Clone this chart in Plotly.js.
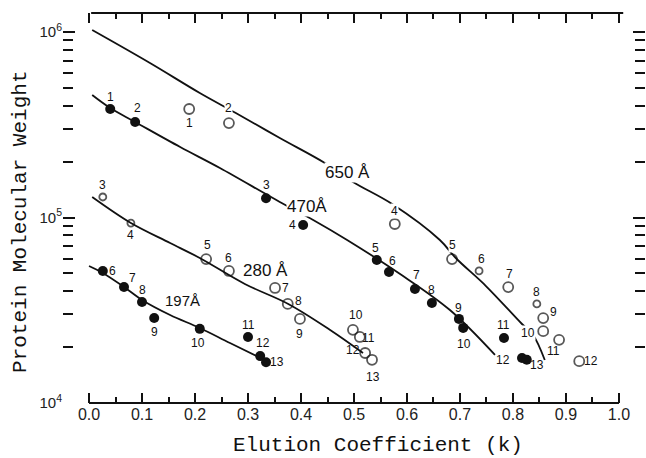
<!DOCTYPE html>
<html><head><meta charset="utf-8">
<script src="https://cdn.plot.ly/plotly-3.0.1.min.js"></script>
<style>body{margin:0;background:#fff}</style>
</head><body><div id="chart" style="width:646px;height:458px"></div>
<script>
// ---- fitted curves (elution coefficient k vs molecular weight) ----
const curve650K  = [0.006, 0.115, 0.209, 0.277, 0.360, 0.445, 0.498, 0.572, 0.662, 0.692, 0.749, 0.817, 0.838, 0.860];
const curve650MW = [1025000, 680600, 469100, 365900, 268300, 196700, 155400, 118200, 75620, 60490, 42720, 26660, 23260, 17050];
const curve470K  = [0.006, 0.040, 0.087, 0.172, 0.247, 0.360, 0.423, 0.487, 0.587, 0.681, 0.766];
const curve470MW = [457100, 389000, 327300, 239900, 184900, 121300, 97050, 75680, 49550, 31700, 18160];
const curve280K  = [0.006, 0.079, 0.153, 0.209, 0.294, 0.376, 0.455, 0.517];
const curve280MW = [129000, 93420, 72870, 60490, 43810, 34180, 24750, 18600];
const curve197K  = [0.000, 0.026, 0.066, 0.100, 0.153, 0.209, 0.266, 0.332];
const curve197MW = [54760, 50210, 42210, 35920, 29810, 25370, 21060, 17050];

// ---- measured proteins ----
const pts650Id = ['1','2','4','5','6','7','8','9','10','11','12'];
const pts650K  = [0.189, 0.264, 0.577, 0.685, 0.736, 0.791, 0.845, 0.857, 0.857, 0.887, 0.925];
const pts650MW = [384600, 322800, 92260, 59700, 51520, 42170, 34200, 28700, 24400, 21900, 16800];
const pts470Id = ['1','2','3','4','5','6','7','8','9','10','11','12','13'];
const pts470K  = [0.040, 0.087, 0.334, 0.404, 0.543, 0.566, 0.615, 0.647, 0.698, 0.706, 0.783, 0.817, 0.826];
const pts470MW = [384600, 327000, 127000, 91200, 59000, 50800, 41200, 34600, 28400, 25400, 22400, 17500, 17100];
const pts280Id = ['3','4','5','6','7','8','9','10','11','12','13'];
const pts280K  = [0.026, 0.079, 0.221, 0.264, 0.351, 0.375, 0.398, 0.498, 0.511, 0.521, 0.534];
const pts280MW = [129000, 93300, 59700, 51500, 41700, 34200, 28400, 24800, 22700, 18600, 17100];
const pts197Id = ['6','7','8','9','10','11','12','13'];
const pts197K  = [0.026, 0.066, 0.100, 0.123, 0.209, 0.300, 0.323, 0.334];
const pts197MW = [51500, 42200, 35000, 28700, 25100, 22700, 17900, 16600];

const curveNames = ['650 Å', '470Å', '280 Å', '197Å'];
const xTickVals = [0,0.1,0.2,0.3,0.4,0.5,0.6,0.7,0.8,0.9,1.0];
const xTickText = ['0.0','0.1','0.2','0.3','0.4','0.5','0.6','0.7','0.8','0.9','1.0'];
const yTickVals = [1e4, 1e5, 1e6];
const yTickText = ['10<sup>4</sup>','10<sup>5</sup>','10<sup>6</sup>'];

// ---- styling / placement (not data) ----
const INK = '#111';
const off650 = [[0,14],[0,-15],[0,-13],[0,-14],[2,-12],[1,-13],[0,-12],[10,-6],[-15,2],[-6,11],[12,0]];
const bg650  = [0,1,1,1,0,0,0,0,1,0,0];
const size650 = [10,10,10,10,7,10,7,10,10,10,10];
const off470 = [[0,-12],[2,-14],[0,-13],[-11,0],[-1,-12],[4,-11],[2,-14],[0,-13],[0,-11],[1,16],[0,-13],[-19,2],[10,5]];
const off280 = [[0,-12],[0,12],[1,-14],[0,-13],[10,0],[11,-3],[0,15],[3,-15],[9,1],[-12,-3],[1,17]];
const size280 = [7,7,10,10,10,10,10,10,10,10,10];
const off197 = [[10,0],[8,-9],[0,-12],[0,14],[-2,14],[0,-12],[3,-13],[11,0]];

function curve(k, mw){
  return {x:k, y:mw, mode:'lines', type:'scatter', line:{color:INK, width:1.8, shape:'spline', smoothing:1}, hoverinfo:'skip', showlegend:false};
}
function pts(k, mw, open, sizes){
  return {x:k, y:mw, mode:'markers', type:'scatter', showlegend:false,
    marker: open ? {symbol:'circle-open', size:sizes, color:INK, line:{width:1.8, color:INK}}
                 : {symbol:'circle', size:10, color:INK, line:{width:0}}};
}
const data = [
  curve(curve650K, curve650MW), curve(curve470K, curve470MW),
  curve(curve280K, curve280MW), curve(curve197K, curve197MW),
  pts(pts650K, pts650MW, true, size650), pts(pts470K, pts470MW, false),
  pts(pts280K, pts280MW, true, size280), pts(pts197K, pts197MW, false)
];

const ann = [];
function labels(ids, k, mw, offs, bgs){
  ids.forEach((t,i)=>{
    ann.push({x:k[i], y:Math.log10(mw[i]), xref:'x', yref:'y', text:t, showarrow:false,
      xshift:offs[i][0], yshift:-offs[i][1], font:{family:'Liberation Sans, Arial', size:12, color:INK},
      bgcolor:(bgs && bgs[i]) ? 'white' : 'rgba(0,0,0,0)', borderpad:0});
  });
}
labels(pts650Id, pts650K, pts650MW, off650, bg650);
labels(pts470Id, pts470K, pts470MW, off470);
labels(pts280Id, pts280K, pts280MW, off280);
labels(pts197Id, pts197K, pts197MW, off197);

// curve labels (pixel-read positions converted to axis units)
const curveLabelPos = [[0.487, 5.240, 17, true],[0.412, 5.060, 17, true],[0.333, 4.712, 17, false],[0.177, 4.555, 15, false]];
curveNames.forEach((t,i)=>{
  const p = curveLabelPos[i];
  ann.push({x:p[0], y:p[1], xref:'x', yref:'y', text:t, showarrow:false,
    font:{family:'Liberation Sans, Arial', size:p[2], color:INK},
    bgcolor:p[3] ? 'white' : 'rgba(0,0,0,0)', borderpad:0});
});
// axis titles
ann.push({text:'Elution Coefficient (k)', xref:'paper', yref:'paper', x:0.541, y:-0.108,
  showarrow:false, xanchor:'center', yanchor:'middle', font:{family:'Liberation Mono, Courier New, monospace', size:21, color:INK}});
ann.push({text:'Protein Molecular Weight', xref:'paper', yref:'paper', x:-0.074, y:0.464, textangle:-90,
  showarrow:false, xanchor:'center', yanchor:'middle', font:{family:'Liberation Mono, Courier New, monospace', size:21, color:INK}});

const xMinor = [0.05,0.15,0.25,0.35,0.45,0.55,0.65,0.75,0.85,0.95];
const yMinor = [2e4,3e4,4e4,5e4,6e4,7e4,8e4,9e4,2e5,3e5,4e5,5e5,6e5,7e5,8e5,9e5];

const layout = {
  width:646, height:458, margin:{l:63, r:1, t:13, b:55},
  paper_bgcolor:'white', plot_bgcolor:'white',
  xaxis:{range:[-0.0491, 1.0491], tickmode:'array', tickvals:xTickVals, ticktext:xTickText,
    ticks:'inside', ticklen:10, tickwidth:2, tickcolor:INK, mirror:'ticks',
    showline:false, showgrid:false, zeroline:false,
    tickfont:{family:'Liberation Sans, Arial', size:16, color:'#222'},
    minor:{tickmode:'array', tickvals:xMinor, ticks:'inside', ticklen:6, tickwidth:2, tickcolor:INK, showgrid:false}},
  yaxis:{type:'log', range:[4, 6.1024], tickmode:'array', tickvals:yTickVals, ticktext:yTickText,
    ticks:'inside', ticklen:12, tickwidth:2, tickcolor:INK, mirror:'ticks',
    showline:false, showgrid:false, zeroline:false,
    tickfont:{family:'Liberation Sans, Arial', size:15, color:'#222'},
    minor:{tickmode:'array', tickvals:yMinor, ticks:'inside', ticklen:10, tickwidth:2, tickcolor:INK, showgrid:false}},
  annotations: ann,
  shapes:[
    {type:'line', xref:'paper', yref:'y', x0:0, x1:0, y0:4, y1:6, line:{color:INK, width:2.2}},
    {type:'line', xref:'x', yref:'paper', x0:0, x1:1.0, y0:0, y1:0, line:{color:INK, width:2.2}},
    {type:'line', xref:'x', yref:'paper', x0:0.004, x1:1.008, y0:1, y1:1, line:{color:INK, width:2.2}}
  ]
};
Plotly.newPlot('chart', data, layout, {displayModeBar:false, staticPlot:true});
</script></body></html>
